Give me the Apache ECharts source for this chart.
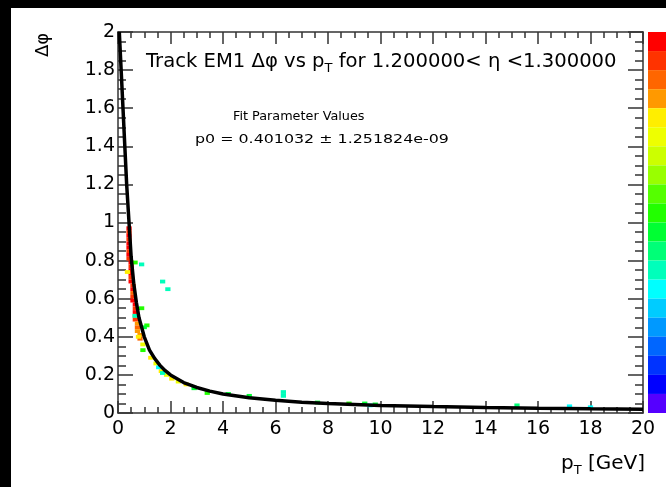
<!DOCTYPE html>
<html>
<head>
<meta charset="utf-8">
<script src="https://cdn.jsdelivr.net/npm/echarts@6/dist/echarts.min.js"></script>
<style>html,body{margin:0;padding:0;background:#000;}#c{width:666px;height:487px;}</style>
</head>
<body>
<div id="c"></div>
<script>
// ---- data ----
var xTicks = [0, 2, 4, 6, 8, 10, 12, 14, 16, 18, 20];
var yTicks = [0, 0.2, 0.4, 0.6, 0.8, 1, 1.2, 1.4, 1.6, 1.8, 2];
// fit curve points [pT, dphi]
var fitX = [0.05, 0.12, 0.19, 0.26, 0.33, 0.42, 0.5, 0.6, 0.7, 0.8, 0.9, 1.0, 1.2, 1.4, 1.6, 1.8, 2, 2.5, 3, 3.5, 4, 5, 6, 7, 8, 9, 10, 12, 14, 16, 18, 20];
var fitY = [2.0, 1.8, 1.6, 1.4, 1.2, 1.0, 0.82, 0.68, 0.58, 0.5, 0.45, 0.4, 0.33, 0.285, 0.25, 0.222, 0.2, 0.16, 0.134, 0.115, 0.1, 0.08, 0.067, 0.057, 0.05, 0.045, 0.04, 0.034, 0.029, 0.025, 0.022, 0.02];
// histogram cells: centre pT, centre dphi, colour level (1..20)
var cellX = [0.42,0.42,0.42,0.42,0.42,0.42,0.42,0.42,0.42, 0.5,0.5,0.5,0.5,0.5,0.5, 0.57,0.57,0.57,0.57,0.57, 0.66,0.66,0.66,0.66,0.66, 0.74,0.74,0.74, 0.84,0.84,
  0.36,0.78,0.95,1.25,1.45,1.65,1.85,2.05,2.3,2.6,
  0.65,0.9,1.1,1.0,0.95,2.9,3.4,5.0,4.2,7.6,8.8,9.4,9.8,15.2,
  0.9,1.7,1.9,0.65,1.7,1.55,6.3,6.3,9.6,18.0,17.2];
var cellY = [0.97,0.95,0.93,0.91,0.89,0.87,0.85,0.83,0.81, 0.79,0.77,0.75,0.73,0.71,0.69, 0.67,0.65,0.63,0.61,0.59, 0.57,0.55,0.53,0.51,0.49, 0.47,0.45,0.43, 0.41,0.39,
  0.74,0.40,0.36,0.29,0.26,0.22,0.2,0.18,0.165,0.15,
  0.79,0.55,0.46,0.45,0.33,0.13,0.105,0.09,0.1,0.055,0.05,0.05,0.045,0.04,
  0.78,0.69,0.65,0.51,0.21,0.24,0.11,0.09,0.04,0.03,0.035];
var cellLevel = [20,19,20,19,20,20,19,20,19, 20,19,20,20,19,20, 19,20,18,19,20, 20,19,20,18,19, 17,18,17, 17,18,
  16,16,15,16,15,16,15,16,15,16,
  11,11,11,10,11,10,11,10,10,10,11,10,10,9,
  8,8,8,8,8,7,8,8,7,7,7];
// palette, level 1 (bottom) .. level 20 (top)
var palette = ['#5500ff','#0000ff','#0033ff','#0066ff','#0099ff','#00ccff','#00ffff','#00ffbb','#00ff77','#00ff33',
  '#22ff00','#55ff00','#99ff00','#ccff00','#eeff00','#ffee00','#ff9900','#ff6600','#ff3300','#ff0000'];

var fitData = fitX.map(function (x, i) { return [x, fitY[i]]; });
var cellData = cellX.map(function (x, i) { return [x, cellY[i], cellLevel[i]]; });
var pieces = palette.map(function (c, i) { return { min: i + 0.5, max: i + 1.5, color: c }; });

var chart = echarts.init(document.getElementById('c'), null, { renderer: 'canvas' });
var axisCol = '#333';
var font = '"DejaVu Sans", sans-serif';
function axisCommon(extra) {
  var base = {
    type: 'value',
    axisLine: { show: true, onZero: false, lineStyle: { color: axisCol, width: 1.5 } },
    splitLine: { show: false }
  };
  for (var k in extra) base[k] = extra[k];
  return base;
}
var xTick = { show: true, inside: true, length: 12, lineStyle: { color: axisCol, width: 1.5 } };
var xMinor = { show: true, splitNumber: 4, length: 6, lineStyle: { color: axisCol, width: 1.5 } };
var yTick = { show: true, inside: true, length: 15, lineStyle: { color: axisCol, width: 1.5 } };
var yMinor = { show: true, splitNumber: 4, length: 8, lineStyle: { color: axisCol, width: 1.5 } };

chart.setOption({
  backgroundColor: '#000',
  animation: false,
  graphic: [
    { type: 'rect', left: 11, top: 8, shape: { width: 655, height: 479 }, style: { fill: '#fff' }, z: -10, silent: true },
    { type: 'text', left: 146, top: 52, z: 10, style: {
        text: '{n|Track EM1 \u0394\u03c6 vs p}{s|T}{n| for 1.200000< \u03b7 <1.300000}',
        rich: { n: { fontSize: 19.6, fontFamily: font, fill: '#000' },
                s: { fontSize: 13, fontFamily: font, fill: '#000', padding: [14, 0, 0, 0] } } } },
    { type: 'text', left: 233, top: 110, z: 10, style: { text: 'Fit Parameter Values', fontSize: 12.8, fontFamily: font, fill: '#000' } },
    { type: 'text', x: 195, y: 133, scaleX: 1.22, z: 10, style: { text: 'p0 = 0.401032 \u00b1 1.251824e-09', fontSize: 13, fontFamily: font, fill: '#000' } },
    { type: 'text', left: 561, top: 454, z: 10, style: {
        text: '{n|p}{s|T}{n| [GeV]}',
        rich: { n: { fontSize: 20, fontFamily: font, fill: '#000' },
                s: { fontSize: 13, fontFamily: font, fill: '#000', padding: [14, 0, 0, 0] } } } },
    { type: 'text', x: 34, y: 57, rotation: Math.PI / 2, z: 10, style: { text: '\u0394\u03c6', fontSize: 18, fontFamily: font, fill: '#000' } }
  ],
  grid: { left: 118, top: 32, right: 23, bottom: 74, show: false },
  visualMap: {
    type: 'piecewise', pieces: pieces, seriesIndex: 0, dimension: 2,
    orient: 'vertical', left: 648, top: 32, itemWidth: 18, itemHeight: 19.05, itemGap: 0,
    itemSymbol: 'rect', showLabel: false, padding: 0, textGap: 0, selectedMode: false, hoverLink: false
  },
  xAxis: [
    axisCommon({ min: 0, max: 20, interval: 2, position: 'bottom', axisTick: xTick, minorTick: xMinor,
      axisLabel: { color: '#000', fontSize: 19, fontFamily: font, margin: 7,
        formatter: function (v) { return xTicks.indexOf(v) >= 0 ? String(v) : ''; } } }),
    axisCommon({ min: 0, max: 20, interval: 2, position: 'top', axisTick: xTick, minorTick: xMinor,
      axisLabel: { show: false } })
  ],
  yAxis: [
    axisCommon({ min: 0, max: 2, interval: 0.2, position: 'left', axisTick: yTick, minorTick: yMinor,
      axisLabel: { color: '#000', fontSize: 19, fontFamily: font, margin: 3,
        formatter: function (v) { var r = Math.round(v * 10) / 10; return yTicks.indexOf(r) >= 0 ? String(r) : ''; } } }),
    axisCommon({ min: 0, max: 2, interval: 0.2, position: 'right', axisTick: yTick, minorTick: yMinor,
      axisLabel: { show: false } })
  ],
  series: [
    { type: 'custom', xAxisIndex: 0, yAxisIndex: 0, data: cellData, clip: true,
      renderItem: function (params, api) {
        var p = api.coord([api.value(0) - 0.1, api.value(1) + 0.01]);
        var s = api.size([0.2, 0.02]);
        return { type: 'rect', shape: { x: p[0], y: p[1], width: s[0], height: s[1] },
          style: { fill: api.visual('color') } };
      } },
    { type: 'line', xAxisIndex: 0, yAxisIndex: 0, data: fitData, showSymbol: false, smooth: false,
      lineStyle: { color: '#000', width: 3.5 }, clip: true, z: 5 }
  ]
});
</script>
</body>
</html>
